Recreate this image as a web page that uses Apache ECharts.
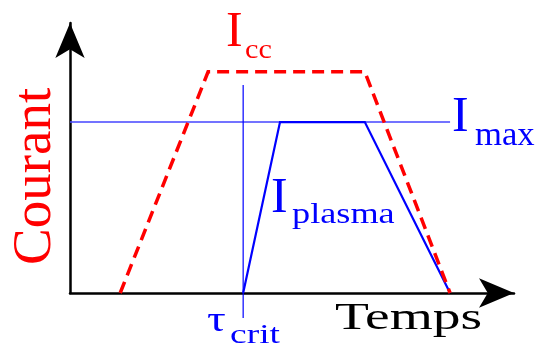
<!DOCTYPE html>
<html><head><meta charset="utf-8">
<script src="https://cdn.jsdelivr.net/npm/echarts@6/dist/echarts.min.js"></script>
<style>html,body{margin:0;padding:0;background:#fff}#c{width:537px;height:350px}</style>
</head><body><div id="c"></div>
<script>
// Schematic values (time, current), arbitrary units
const iccTime = [1.13, 3.11, 6.64, 8.56];
const iccValue = [0, 8.19, 8.19, 0];
const plasmaTime = [3.90, 4.73, 6.64, 8.56];
const plasmaValue = [0, 6.33, 6.33, 0];
const imaxTime = [0, 8.56];
const imaxValue = [6.33, 6.33];
const tauTime = [3.90, 3.90];
const tauValue = [7.70, -0.93];
const labels = {courant: 'Courant', temps: 'Temps'};

const zip = (a, b) => a.map((v, i) => [v, b[i]]);
const SERIF = 'Liberation Serif, Times New Roman, serif';

function txt(text, x, y, fs, color, sx, rot) {
  return {
    type: 'text', x: x, y: y, scaleX: sx || 1, rotation: rot || 0, z: 100,
    style: {text: text, x: 0, y: 0, fill: color, fontSize: fs, fontFamily: SERIF,
            textAlign: 'left', verticalAlign: 'top'}
  };
}

const chart = echarts.init(document.getElementById('c'), null, {renderer: 'canvas'});
const axisCommon = {
  type: 'value', min: 0, max: 10,
  axisLine: {show: true, symbol: ['none', 'arrow'], symbolSize: [22, 35],
             lineStyle: {color: '#000', width: 2.5}},
  axisTick: {show: false}, axisLabel: {show: false}, splitLine: {show: false}
};
chart.setOption({
  animation: false,
  grid: {left: 70, right: 23, top: 23, bottom: 57},
  xAxis: Object.assign({}, axisCommon),
  yAxis: Object.assign({}, axisCommon),
  series: [
    {type: 'line', data: zip(imaxTime, imaxValue), symbol: 'none', clip: false,
     lineStyle: {color: '#4444ff', width: 1.5}},
    {type: 'line', data: zip(tauTime, tauValue), symbol: 'none', clip: false,
     lineStyle: {color: '#0000ff', width: 1.2}},
    {type: 'line', data: zip(plasmaTime, plasmaValue), symbol: 'none', clip: false,
     lineStyle: {color: '#0000ff', width: 2.2, join: 'miter'}},
    {type: 'line', data: zip(iccTime, iccValue), symbol: 'none', clip: false,
     lineStyle: {color: '#ff0000', width: 3.5, type: [12, 7], join: 'miter'}}
  ],
  graphic: [
    txt('I', 226, 8, 50, '#ff0000'),
    txt('cc', 245, 37.4, 27, '#ff0000', 1.12),
    txt('I', 452, 93, 50, '#0000ff'),
    txt('max', 475, 119.4, 33, '#0000ff', 1.05),
    txt('I', 271, 174, 50, '#0000ff'),
    txt('plasma', 292, 200.7, 29, '#0000ff', 1.25),
    txt('τ', 207, 303.5, 36, '#0000ff', 1.3),
    txt('crit', 230, 322.4, 27, '#0000ff', 1.39),
    txt(labels.temps, 335, 300.2, 38, '#000', 1.46),
    txt(labels.courant, 8, 265, 55, '#ff0000', 1, Math.PI / 2)
  ]
});
</script></body></html>
